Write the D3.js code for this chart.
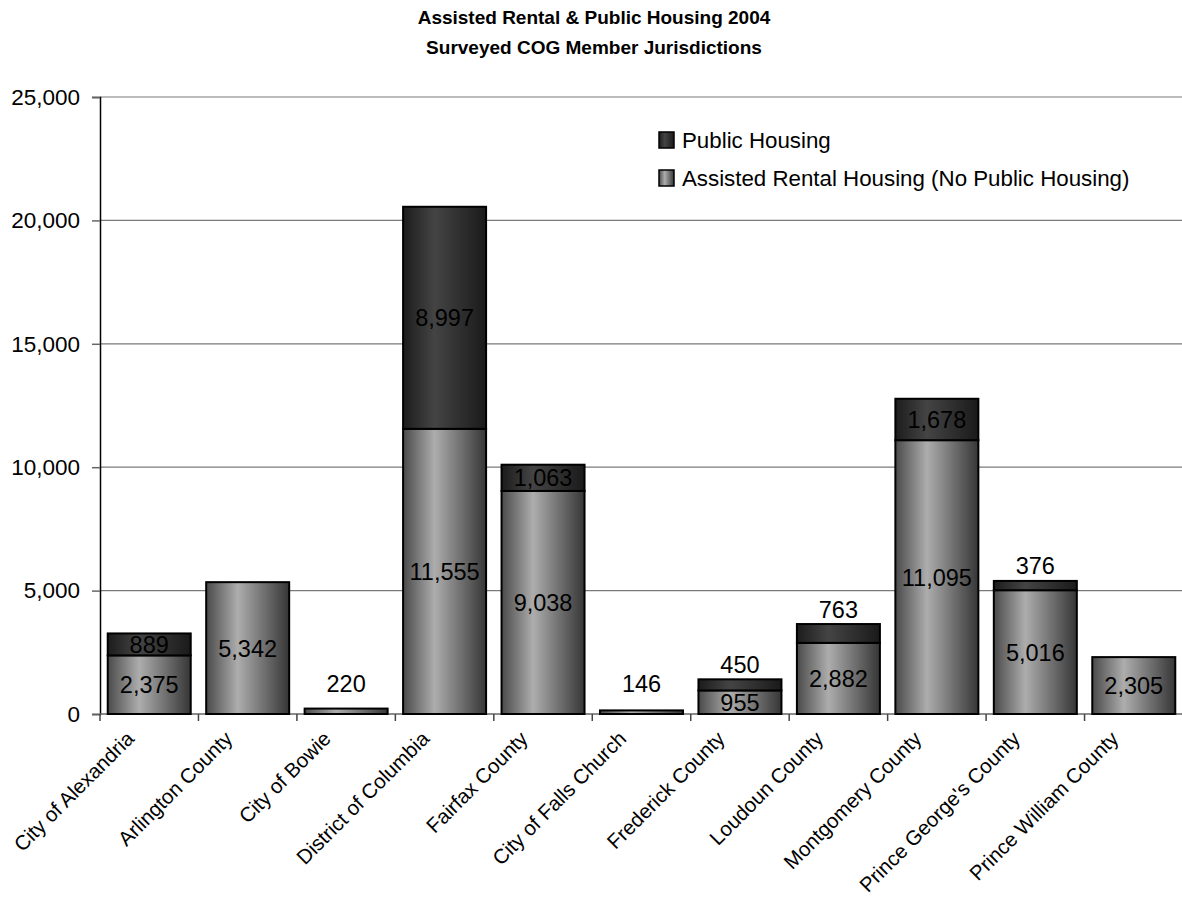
<!DOCTYPE html>
<html>
<head>
<meta charset="utf-8">
<script src="https://cdn.jsdelivr.net/npm/d3@7"></script>
<style>
  html, body { margin: 0; padding: 0; background: #fff; }
  svg { display: block; }
  text { font-family: "Liberation Sans", Arial, sans-serif; fill: #000; }
</style>
</head>
<body>
<svg id="chart" width="1182" height="907"></svg>
<script>
const categories = ["City of Alexandria", "Arlington County", "City of Bowie", "District of Columbia",
  "Fairfax County", "City of Falls Church", "Frederick County", "Loudoun County",
  "Montgomery County", "Prince George's County", "Prince William County"];
const assisted = [2375, 5342, 220, 11555, 9038, 146, 955, 2882, 11095, 5016, 2305];
const publicHousing = [889, 0, 0, 8997, 1063, 0, 450, 763, 1678, 376, 0];
const yTicks = [0, 5000, 10000, 15000, 20000, 25000];
const seriesNames = ["Public Housing", "Assisted Rental Housing (No Public Housing)"];
const titleLines = ["Assisted Rental & Public Housing 2004", "Surveyed COG Member Jurisdictions"];

const svg = d3.select("#chart");
const mLeft = 100, mRight = 1183, mTop = 97, mBottom = 714;

const x = d3.scaleBand().domain(categories).range([mLeft, mRight]).paddingInner(0.157).paddingOuter(0.0785);
const y = d3.scaleLinear().domain([0, 25000]).range([mBottom, mTop]);

// gradients
const defs = svg.append("defs");
function grad(id, edgeL, mid, edgeR) {
  const g = defs.append("linearGradient").attr("id", id).attr("x1", "0%").attr("x2", "100%").attr("y1", "0%").attr("y2", "0%");
  g.append("stop").attr("offset", "0%").attr("stop-color", edgeL);
  g.append("stop").attr("offset", "38%").attr("stop-color", mid);
  g.append("stop").attr("offset", "100%").attr("stop-color", edgeR);
}
grad("gLight", "#4a4a4a", "#adadad", "#363636");
grad("gDark", "#1c1c1c", "#444444", "#1a1a1a");

// title
svg.append("g").selectAll("text").data(titleLines).join("text")
  .attr("x", 594).attr("y", (d, i) => 24 + i * 30)
  .attr("text-anchor", "middle").attr("font-size", 19).attr("font-weight", "bold")
  .text(d => d);

// gridlines
svg.append("g").selectAll("line").data(yTicks.filter(t => t > 0)).join("line")
  .attr("x1", mLeft).attr("x2", mRight).attr("y1", d => y(d)).attr("y2", d => y(d))
  .attr("stroke", "#7a7a7a").attr("stroke-width", 1.2);

// y axis
const yAxis = svg.append("g").attr("transform", `translate(${mLeft},0)`)
  .call(d3.axisLeft(y).tickValues(yTicks).tickSize(8).tickPadding(12).tickFormat(d3.format(",")));
yAxis.select(".domain").attr("stroke", "#000").attr("stroke-width", 1.5);
yAxis.selectAll(".tick line").attr("stroke", "#666").attr("stroke-width", 1.5);
yAxis.selectAll("text").attr("font-size", 22.5).attr("font-family", "Liberation Sans, Arial, sans-serif");

// x axis
const boundaries = d3.range(categories.length + 1).map(i => mLeft + i * x.step());
svg.append("line").attr("x1", mLeft).attr("x2", mRight).attr("y1", mBottom).attr("y2", mBottom)
  .attr("stroke", "#666").attr("stroke-width", 1.5);
svg.append("g").selectAll("line").data(boundaries).join("line")
  .attr("x1", d => d).attr("x2", d => d).attr("y1", mBottom).attr("y2", mBottom + 7)
  .attr("stroke", "#444").attr("stroke-width", 1.5);

svg.append("g").selectAll("text").data(categories).join("text")
  .attr("transform", d => `translate(${x(d) + x.bandwidth() / 2 - 14},${mBottom + 26}) rotate(-45)`)
  .attr("text-anchor", "end").attr("font-size", 20.5)
  .text(d => d);

// bars
const bars = svg.append("g");
categories.forEach((c, i) => {
  const a = assisted[i], p = publicHousing[i];
  bars.append("rect").attr("x", x(c)).attr("width", x.bandwidth())
    .attr("y", y(a)).attr("height", y(0) - y(a))
    .attr("fill", "url(#gLight)").attr("stroke", "#000").attr("stroke-width", 2);
  if (p > 0) {
    bars.append("rect").attr("x", x(c)).attr("width", x.bandwidth())
      .attr("y", y(a + p)).attr("height", y(a) - y(a + p))
      .attr("fill", "url(#gDark)").attr("stroke", "#000").attr("stroke-width", 2);
  }
});

// labels
const fmt = d3.format(",");
const labels = svg.append("g");
categories.forEach((c, i) => {
  const a = assisted[i], p = publicHousing[i];
  const cx = x(c) + x.bandwidth() / 2;
  const totTop = y(a + p);
  const aboveY = Math.min(totTop - 15, y(0) - 30);
  const hA = y(0) - y(a);
  const ay = hA >= 20 ? (y(0) + y(a)) / 2 : aboveY;
  labels.append("text").attr("x", cx).attr("y", ay).attr("dy", "0.36em")
    .attr("text-anchor", "middle").attr("font-size", 23.5).text(fmt(a));
  if (p > 0) {
    const hP = y(a) - y(a + p);
    const py = hP >= 20 ? (y(a) + y(a + p)) / 2 : aboveY;
    labels.append("text").attr("x", cx).attr("y", py).attr("dy", "0.36em")
      .attr("text-anchor", "middle").attr("font-size", 23.5).text(fmt(p));
  }
});

// legend
const legend = svg.append("g");
seriesNames.forEach((s, i) => {
  const ly = 140 + i * 38;
  legend.append("rect").attr("x", 659).attr("y", ly - 8).attr("width", 15).attr("height", 16)
    .attr("fill", i === 0 ? "url(#gDark)" : "url(#gLight)").attr("stroke", "#000").attr("stroke-width", 1.5);
  legend.append("text").attr("x", 682).attr("y", ly).attr("dy", "0.36em")
    .attr("font-size", 22.3).text(s);
});
</script>
</body>
</html>
